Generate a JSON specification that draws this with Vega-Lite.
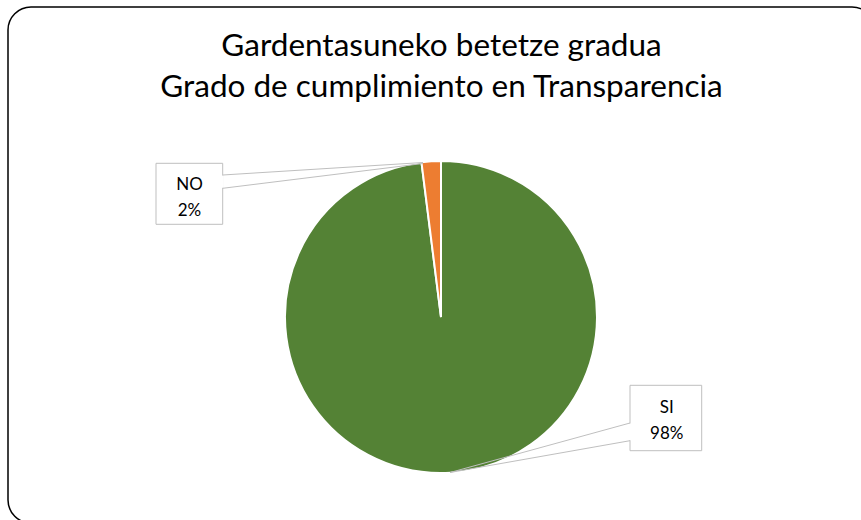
{
  "$schema": "https://vega.github.io/schema/vega-lite/v6.json",
  "width": 867,
  "height": 516,
  "autosize": "none",
  "padding": {"left": 8, "top": 7, "right": -14, "bottom": -3},
  "background": "white",
  "config": {
    "view": {"stroke": "#000000", "strokeWidth": 1.5, "cornerRadius": 23, "fill": "white"}
  },
  "title": {
    "text": ["Gardentasuneko betetze gradua", "Grado de cumplimiento en Transparencia"],
    "font": "Lato",
    "fontSize": 31.5,
    "fontWeight": "normal",
    "color": "#000000",
    "anchor": "middle",
    "frame": "group",
    "baseline": "alphabetic",
    "offset": -121,
    "lineHeight": 41
  },
  "data": {"values": [{"cat": "SI", "value": 98}, {"cat": "NO", "value": 2}]},
  "layer": [
    {
      "mark": {"type": "arc", "outerRadius": 156, "stroke": "white", "strokeWidth": 2},
      "encoding": {
        "theta": {"field": "value", "type": "quantitative", "stack": true},
        "order": {"field": "value", "type": "quantitative", "sort": "descending"},
        "color": {"field": "cat", "type": "nominal", "scale": {"domain": ["SI", "NO"], "range": ["#548235", "#ED7D31"]}, "legend": null},
        "x": {"value": 433},
        "y": {"value": 310}
      }
    },
    {
      "transform": [{"filter": "datum.cat == 'NO'"}],
      "layer": [
        {"mark": {"type": "rect", "fill": "white", "stroke": "#BFBFBF", "strokeWidth": 1},
         "encoding": {"x": {"value": 148}, "x2": {"value": 214.7}, "y": {"value": 156.3}, "y2": {"value": 217.3}}},
        {"mark": {"type": "rule", "stroke": "white", "strokeWidth": 2},
         "encoding": {"x": {"value": 214.7}, "y": {"value": 168.5}, "y2": {"value": 180.8}}},
        {"mark": {"type": "rule", "stroke": "#BFBFBF", "strokeWidth": 1},
         "encoding": {"x": {"value": 214.7}, "y": {"value": 168}, "x2": {"value": 415}, "y2": {"value": 155.5}}},
        {"mark": {"type": "rule", "stroke": "#BFBFBF", "strokeWidth": 1},
         "encoding": {"x": {"value": 214.7}, "y": {"value": 181.3}, "x2": {"value": 415}, "y2": {"value": 156.5}}},
        {"transform": [{"calculate": "[datum.cat, datum.value + '%']", "as": "label"}],
         "mark": {"type": "text", "font": "Lato", "fontSize": 17, "color": "#000000", "align": "center", "baseline": "alphabetic", "lineHeight": 26},
         "encoding": {"text": {"field": "label"}, "x": {"value": 181.5}, "y": {"value": 183}}}
      ]
    },
    {
      "transform": [{"filter": "datum.cat == 'SI'"}],
      "layer": [
        {"mark": {"type": "rect", "fill": "white", "stroke": "#BFBFBF", "strokeWidth": 1},
         "encoding": {"x": {"value": 622}, "x2": {"value": 693.7}, "y": {"value": 378.3}, "y2": {"value": 443.7}}},
        {"mark": {"type": "rule", "stroke": "white", "strokeWidth": 2},
         "encoding": {"x": {"value": 622}, "y": {"value": 416.5}, "y2": {"value": 433.2}}},
        {"mark": {"type": "rule", "stroke": "#BFBFBF", "strokeWidth": 1},
         "encoding": {"x": {"value": 622}, "y": {"value": 416}, "x2": {"value": 442}, "y2": {"value": 465.5}}},
        {"mark": {"type": "rule", "stroke": "#BFBFBF", "strokeWidth": 1},
         "encoding": {"x": {"value": 622}, "y": {"value": 433.7}, "x2": {"value": 442}, "y2": {"value": 465.5}}},
        {"transform": [{"calculate": "[datum.cat, datum.value + '%']", "as": "label"}],
         "mark": {"type": "text", "font": "Lato", "fontSize": 17, "color": "#000000", "align": "center", "baseline": "alphabetic", "lineHeight": 26},
         "encoding": {"text": {"field": "label"}, "x": {"value": 658.7}, "y": {"value": 406}}}
      ]
    }
  ]
}
